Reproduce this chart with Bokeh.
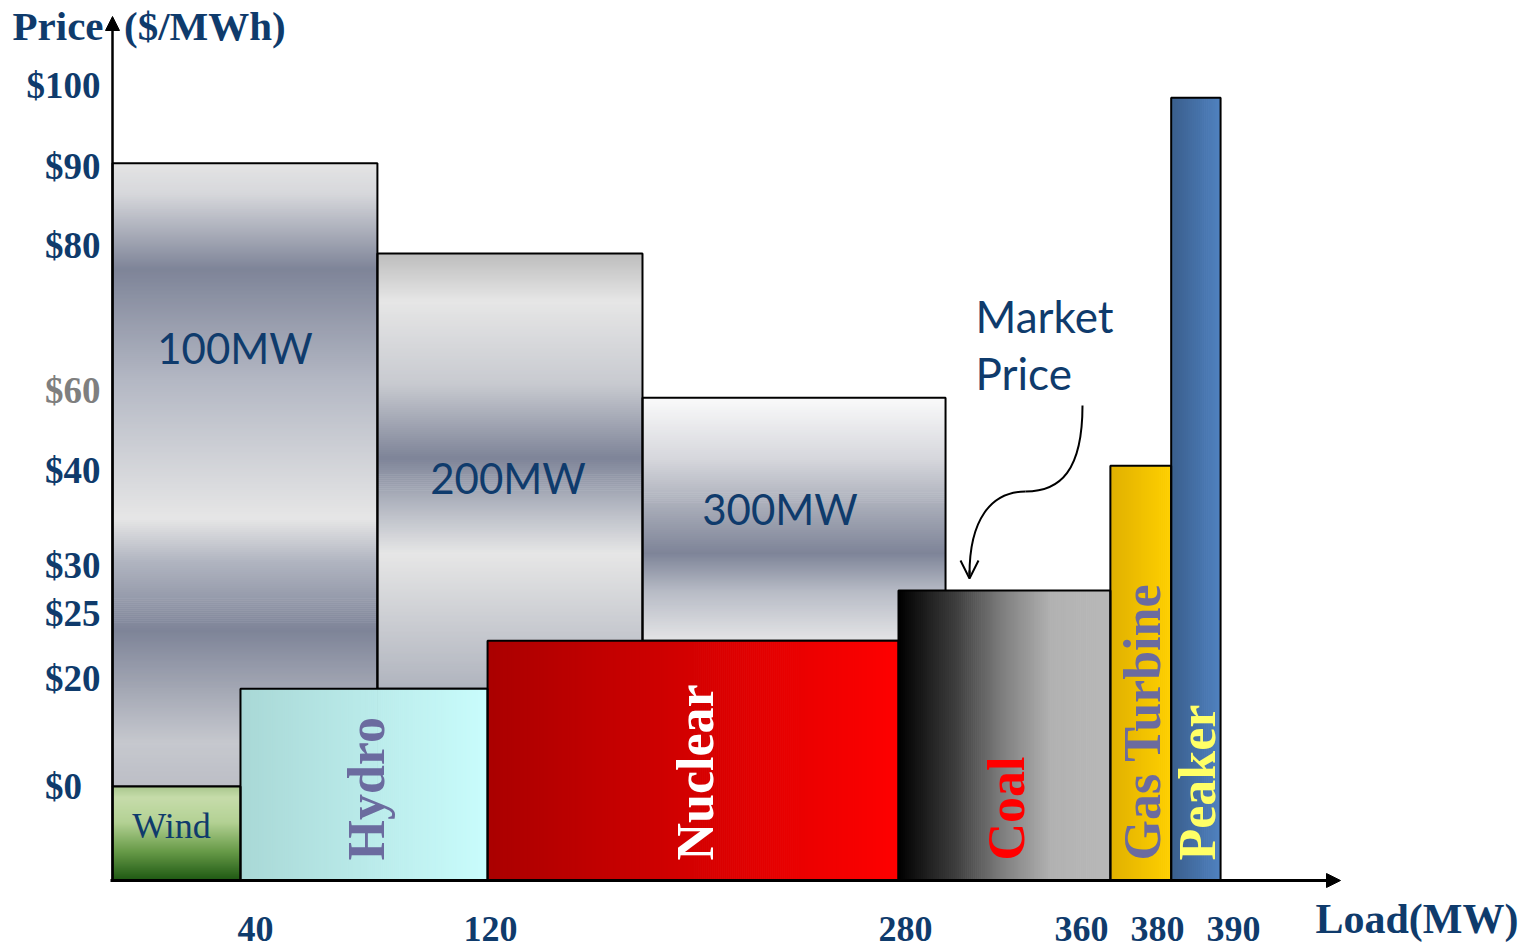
import numpy as np
from bokeh.plotting import figure
from bokeh.models import Range1d, Arrow, NormalHead, OpenHead, ColumnDataSource
from bokeh.core.properties import value
from bokeh.embed import file_html
from bokeh.resources import INLINE

# ---------------- data ----------------
load_ticks = [40, 120, 280, 360, 380, 390]
load_tick_labels = ["40", "120", "280", "360", "380", "390"]
price_ticks = [0, 20, 25, 30, 40, 60, 80, 90, 100]
price_tick_labels = ["$0", "$20", "$25", "$30", "$40", "$60", "$80", "$90", "$100"]

# supply stack (merit order): cumulative load at the right edge of each block, offer price
supply_names = ["Wind", "Hydro", "Nuclear", "Coal", "Gas Turbine", "Peaker"]
supply_end_mw = [35.8, 119.0, 277.3, 367.6, 381.8, 388.3]
supply_price = [0.0, 18.1, 22.9, 27.4, 41.2, 98.5]

# demand-level blocks drawn behind the stack
demand_labels = ["100MW", "200MW", "300MW"]
demand_end_mw = [81.5, 178.6, 298.2]
demand_price = [90.4, 78.9, 58.2]

# ---------------- schematic axes ----------------
# Tick positions are spread out for legibility (not to scale); values are
# placed by interpolating between neighbouring ticks.
LOAD_AXIS_POS = [0, 143, 378, 793, 969, 1045, 1121]
PRICE_AXIS_POS = [94, 202, 267, 315, 410, 490, 635, 714, 795]


def xs(mw):
    return np.interp(mw, [0] + load_ticks, LOAD_AXIS_POS)


def ys(price):
    return np.interp(price, price_ticks, PRICE_AXIS_POS)


NAVY = "#0f3b6c"
SERIF = "Liberation Serif"
SANS = "Lato"

# ---------------- gradient helpers ----------------
def _rgb(h):
    return [int(h[i:i + 2], 16) for i in (1, 3, 5)]


def ramp(stops, t):
    fr = [s[0] for s in stops]
    cols = np.array([_rgb(s[1]) for s in stops], float)
    chans = [np.interp(t, fr, cols[:, k]) for k in range(3)]
    return ["#%02x%02x%02x" % (int(round(r)), int(round(g)), int(round(b)))
            for r, g, b in zip(*chans)]


def stripes(x0, x1, y0, y1, stops, direction, step=2.0):
    """Thin quads approximating a linear gradient inside a rectangle."""
    if direction == "x":
        n = max(int((x1 - x0) / step), 1)
        e = np.linspace(x0, x1, n + 1)
        t = ((e[:-1] + e[1:]) / 2 - x0) / (x1 - x0)
        return dict(left=list(e[:-1]), right=list(np.minimum(e[1:] + 0.7, x1)),
                    bottom=[y0] * n, top=[y1] * n, color=ramp(stops, t))
    n = max(int((y1 - y0) / step), 1)
    e = np.linspace(y1, y0, n + 1)
    t = (y1 - (e[:-1] + e[1:]) / 2) / (y1 - y0)
    return dict(left=[x0] * n, right=[x1] * n, top=list(e[:-1]),
                bottom=list(np.maximum(e[1:] - 0.7, y0)), color=ramp(stops, t))


def merge(parts):
    out = dict(left=[], right=[], bottom=[], top=[], color=[])
    for prt in parts:
        for k in out:
            out[k] += list(prt[k])
    return out


METAL = {
    "100MW": [(0, "#e4e4e4"), (0.05, "#d6d7db"), (0.17, "#7e8498"), (0.35, "#b4b8c4"),
              (0.57, "#e6e6e6"), (0.64, "#b0b4c0"), (0.75, "#7e8498"), (0.93, "#c6c8ce"),
              (1, "#bcbec6")],
    "200MW": [(0, "#bdbdbd"), (0.11, "#e6e6e6"), (0.30, "#c8cad0"), (0.47, "#7e8498"),
              (0.58, "#b4b8c2"), (0.69, "#e6e6e6"), (1, "#b0b4be")],
    "300MW": [(0, "#fafafa"), (0.25, "#d6d7dc"), (0.45, "#a8acb8"), (0.64, "#7e8498"),
              (0.80, "#b8bcc6"), (1, "#e4e4e6")],
}

SUPPLY_FILL = {
    "Wind": ("y", [(0, "#a9c78e"), (0.12, "#c6dcaa"), (0.38, "#b3d194"), (0.68, "#6a9c4a"),
                   (1, "#1d5812")]),
    "Hydro": ("x", [(0, "#a9d8d6"), (1, "#c9fcfc")]),
    "Nuclear": ("x", [(0, "#aa0000"), (1, "#ff0000")]),
    "Coal": ("x", [(0, "#000000"), (0.28, "#404040"), (0.48, "#7c7c7c"), (0.72, "#b2b2b2"),
                   (1, "#b8b8b8")]),
    "Gas Turbine": ("x", [(0, "#e0b000"), (1, "#ffd000")]),
    "Peaker": ("x", [(0, "#3a5e8c"), (1, "#5082c0")]),
}

SUPPLY_TEXT = {"Hydro": "#6b6b9f", "Nuclear": "#ffffff", "Coal": "#ff0000",
               "Gas Turbine": "#6b6b9f", "Peaker": "#ffff66"}

# ---------------- geometry from data ----------------
sup_left = xs([0] + supply_end_mw[:-1])
sup_right = xs(supply_end_mw)
sup_top = ys(supply_price)
sup_bottom = np.zeros(len(supply_names))

dem_left = xs([0] + demand_end_mw[:-1])
dem_right = xs(demand_end_mw)
dem_top = ys(demand_price)
# each demand block rests on the stack block beneath its left end
dem_bottom = np.array([sup_top[0], sup_top[1], sup_top[2]])

# ---------------- figure ----------------
# the frame fills the whole canvas; the origin of the axes sits at (112, 880) px
p = figure(width=1532, height=950, x_range=Range1d(-112, 1420), y_range=Range1d(-70, 880),
           output_backend="svg", toolbar_location=None,
           min_border_left=0, min_border_right=0, min_border_top=0, min_border_bottom=0)
p.xaxis.visible = False
p.yaxis.visible = False
p.outline_line_color = None
p.xgrid.visible = False
p.ygrid.visible = False
p.background_fill_color = "white"
p.border_fill_color = "white"

# demand blocks (metallic)
metal = merge([stripes(dem_left[i], dem_right[i], dem_bottom[i], dem_top[i],
                       METAL[demand_labels[i]], "y") for i in range(3)])
p.quad(source=ColumnDataSource(metal), left="left", right="right", bottom="bottom", top="top",
       fill_color="color", line_color=None)
p.quad(left=dem_left, right=dem_right, bottom=dem_bottom, top=dem_top,
       fill_color=None, line_color="black", line_width=2)

# supply stack
sup = merge([stripes(sup_left[i], sup_right[i], sup_bottom[i], sup_top[i],
                     SUPPLY_FILL[n][1], SUPPLY_FILL[n][0]) for i, n in enumerate(supply_names)])
p.quad(source=ColumnDataSource(sup), left="left", right="right", bottom="bottom", top="top",
       fill_color="color", line_color=None)
p.quad(left=sup_left, right=sup_right, bottom=sup_bottom, top=sup_top,
       fill_color=None, line_color="black", line_width=2)

# block labels
dem_frac = [0.297, 0.516, 0.456]       # text centre, fraction down from block top
dem_dx = [-10, -2, -14]
lab_src = ColumnDataSource(dict(
    x=list((dem_left + dem_right) / 2 + np.array(dem_dx)),
    y=list(dem_top - (dem_top - dem_bottom) * np.array(dem_frac)),
    text=demand_labels))
p.text(x="x", y="y", text="text", source=lab_src, text_align="center",
       text_baseline="middle", text_font=value(SANS), text_font_size="42px",
       text_color=NAVY)

vert = [i for i, n in enumerate(supply_names) if n in SUPPLY_TEXT]
vsrc = ColumnDataSource(dict(
    x=list((sup_left[vert] + sup_right[vert]) / 2 + 2),
    y=[20] * len(vert),
    text=[supply_names[i] for i in vert],
    color=[SUPPLY_TEXT[supply_names[i]] for i in vert]))
p.text(x="x", y="y", text="text", source=vsrc, angle=np.pi / 2, text_align="left",
       text_baseline="middle", text_font=value(SERIF), text_font_style="bold",
       text_font_size="52px", text_color="color")

p.text(x=[(sup_left[0] + sup_right[0]) / 2 - 5], y=[sup_top[0] / 2 + 8], text=["Wind"],
       text_align="center", text_baseline="middle", text_font=value(SERIF),
       text_font_size="36px", text_color=NAVY)

# market price callout pointing at the coal block
cx, cy = sup_left[3], sup_top[3]
p.bezier(x0=[cx + 184], y0=[cy + 185], x1=[cx + 127], y1=[cy + 99],
         cx0=[cx + 184], cy0=[cy + 120], cx1=[cx + 162], cy1=[cy + 99],
         line_color="black", line_width=2)
p.bezier(x0=[cx + 127], y0=[cy + 99], x1=[cx + 71], y1=[cy + 16],
         cx0=[cx + 92], cy0=[cy + 99], cx1=[cx + 71], cy1=[cy + 70],
         line_color="black", line_width=2)
p.add_layout(Arrow(end=OpenHead(size=18, line_width=2, line_color="black"),
                   x_start=cx + 71, y_start=cy + 20, x_end=cx + 71, y_end=cy + 12,
                   line_color="black", line_width=2))
p.text(x=[cx + 77, cx + 77], y=[cy + 274, cy + 217], text=["Market", "Price"],
       text_align="left", text_baseline="middle", text_font=value(SANS),
       text_font_size="44px", text_color=NAVY)

# ---------------- axes ----------------
# price tick labels, right-aligned against the price axis
ylab = list(price_tick_labels)
ylab[0] = "$0\u00a0\u00a0"
ysrc = ColumnDataSource(dict(
    x=[-12] * len(price_ticks), y=list(ys(price_ticks)), text=ylab,
    color=["#7f7f7f" if v == 60 else NAVY for v in price_ticks]))
p.text(x="x", y="y", text="text", source=ysrc, text_align="right", text_baseline="middle",
       text_font=value(SERIF), text_font_style="bold", text_font_size="37px",
       text_color="color")

# load tick labels under the load axis
xsrc = ColumnDataSource(dict(x=list(xs(load_ticks)), y=[-48] * len(load_ticks),
                             text=load_tick_labels))
p.text(x="x", y="y", text="text", source=xsrc, text_align="center", text_baseline="middle",
       text_font=value(SERIF), text_font_style="bold", text_font_size="36px",
       text_color=NAVY)

# axis arrows
p.add_layout(Arrow(end=NormalHead(size=14, fill_color="black", line_color="black"),
                   x_start=-2, y_start=0, x_end=1228, y_end=0,
                   line_color="black", line_width=3))
p.add_layout(Arrow(end=NormalHead(size=14, fill_color="black", line_color="black"),
                   x_start=0, y_start=0, x_end=0, y_end=864,
                   line_color="black", line_width=2.5))

# axis titles
p.text(x=[-100], y=[855], text=["Price\u00a0 ($/MWh)"], text_align="left",
       text_baseline="middle", text_font=value(SERIF), text_font_style="bold",
       text_font_size="41px", text_color=NAVY)
p.text(x=[1203], y=[-38], text=["Load(MW)"], text_align="left",
       text_baseline="middle", text_font=value(SERIF), text_font_style="bold",
       text_font_size="42px", text_color=NAVY)

open("out.html", "w").write(file_html(p, INLINE))
